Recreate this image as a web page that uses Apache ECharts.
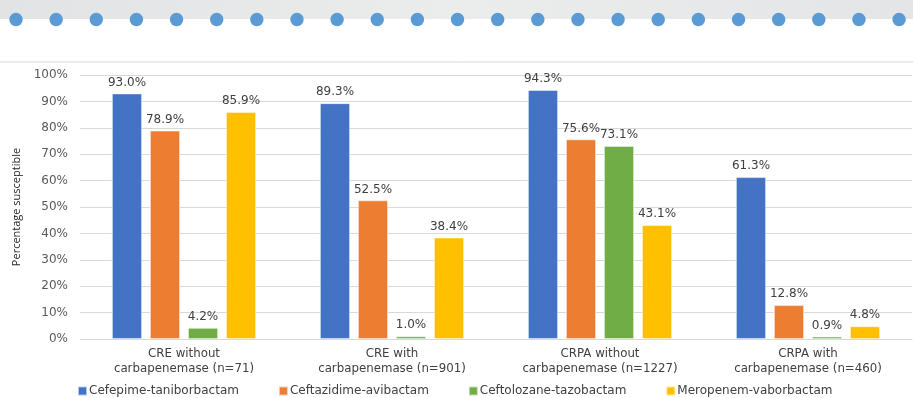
<!DOCTYPE html>
<html>
<head>
<meta charset="utf-8">
<script src="https://cdn.jsdelivr.net/npm/echarts@6/dist/echarts.min.js"></script>
<style>
html,body{margin:0;padding:0;background:#fff;}
#chart{width:913px;height:398px;}
</style>
</head>
<body>
<div id="chart"></div>
<script>
const categories = [
  'CRE without\ncarbapenemase (n=71)',
  'CRE with\ncarbapenemase (n=901)',
  'CRPA without\ncarbapenemase (n=1227)',
  'CRPA with\ncarbapenemase (n=460)'
];
const seriesNames = ['Cefepime-taniborbactam', 'Ceftazidime-avibactam', 'Ceftolozane-tazobactam', 'Meropenem-vaborbactam'];
const cefepimeTaniborbactam = [93.0, 89.3, 94.3, 61.3];
const ceftazidimeAvibactam = [78.9, 52.5, 75.6, 12.8];
const ceftolozaneTazobactam = [4.2, 1.0, 73.1, 0.9];
const meropenemVaborbactam = [85.9, 38.4, 43.1, 4.8];
const yTicks = [0, 10, 20, 30, 40, 50, 60, 70, 80, 90, 100];

const seriesValues = [cefepimeTaniborbactam, ceftazidimeAvibactam, ceftolozaneTazobactam, meropenemVaborbactam];
const colors = ['#4472C4', '#ED7D31', '#70AD47', '#FFC000'];

const chart = echarts.init(document.getElementById('chart'), null, {renderer: 'canvas'});

// decorative header band
const graphics = [
  {type: 'rect', shape: {x: 0, y: 0, width: 913, height: 19},
   style: {fill: new echarts.graphic.LinearGradient(0, 0, 1, 0, [
     {offset: 0, color: '#e2e3e4'}, {offset: 0.5, color: '#ebecec'}, {offset: 1, color: '#e4e5e6'}])}, z: 0},
  {type: 'line', shape: {x1: 0, y1: 62, x2: 913, y2: 62}, style: {stroke: '#d9d9d9', lineWidth: 1}, z: 0}
];
for (let i = 0; i < 23; i++) {
  graphics.push({type: 'circle', shape: {cx: 16 + i * 40.14, cy: 19.5, r: 6.7}, style: {fill: '#5B9BD5'}, z: 1});
}

const option = {
  animation: false,
  backgroundColor: '#ffffff',
  graphic: graphics,
  grid: {left: 80, right: 1, top: 75, bottom: 59, containLabel: false},
  legend: {
    data: seriesNames,
    left: 77,
    top: 385,
    padding: 0,
    itemWidth: 9,
    itemHeight: 9,
    itemGap: 39,
    icon: 'rect',
    textStyle: {fontFamily: 'DejaVu Sans', fontSize: 12, color: '#404040', padding: [0, 0, 0, -3]}
  },
  xAxis: {
    type: 'category',
    data: categories,
    axisLine: {show: true, lineStyle: {color: '#d9d9d9', width: 1}},
    axisTick: {show: false},
    axisLabel: {
      margin: 7, fontFamily: 'DejaVu Sans', fontSize: 11.8, color: '#404040', lineHeight: 15, interval: 0
    }
  },
  yAxis: {
    type: 'value',
    min: yTicks[0],
    max: yTicks[yTicks.length - 1],
    interval: 10,
    name: 'Percentage susceptible',
    nameLocation: 'middle',
    nameGap: 57,
    nameRotate: 90,
    nameTextStyle: {fontFamily: 'Liberation Sans Narrow, Open Sans', fontSize: 11, color: '#262626'},
    axisLine: {show: false},
    axisTick: {show: false},
    axisLabel: {
      margin: 12, fontFamily: 'DejaVu Sans', fontSize: 12, color: '#595959',
      formatter: v => v + '%'
    },
    splitLine: {lineStyle: {color: '#d9d9d9', width: 1}}
  },
  series: seriesNames.map((name, i) => ({
    name: name,
    type: 'bar',
    data: seriesValues[i],
    barWidth: 30,
    barGap: '26.7%',
    itemStyle: {color: colors[i], borderColor: 'rgba(255,255,255,0.6)', borderWidth: 0.8},
    label: {
      show: true,
      position: 'top',
      distance: 5,
      fontFamily: 'DejaVu Sans',
      fontSize: 12,
      color: '#404040',
      formatter: p => p.value.toFixed(1) + '%'
    }
  }))
};
chart.setOption(option);
</script>
</body>
</html>
